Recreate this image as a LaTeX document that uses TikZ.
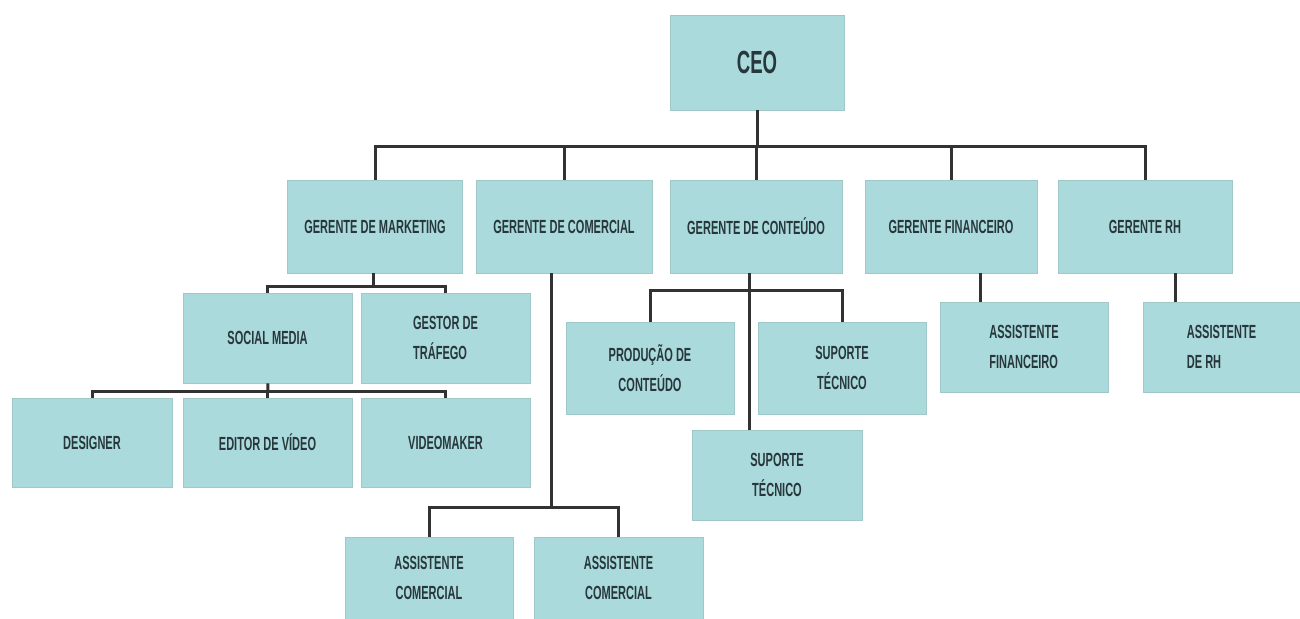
\documentclass[tikz,border=0pt]{standalone}
\usepackage{fontspec}
\setmainfont{Liberation Sans}[FakeStretch=0.58]
\usepackage{tikz}
\definecolor{boxfill}{RGB}{170,218,220}
\definecolor{boxtext}{RGB}{40,55,60}
\definecolor{linecol}{RGB}{50,50,50}

\begin{document}
\begin{tikzpicture}[x=0.5pt,y=-0.5pt]
					\tikzstyle{box}=[rectangle,fill=boxfill,draw=boxfill!80!gray,line width=0.4pt,text=boxtext,
						font=\bfseries\fontsize{9.5}{15}\selectfont,align=center,inner sep=1pt]
					\tikzstyle{link}=[draw=linecol,line width=1.5pt]
					\useasboundingbox (0,0) rectangle (1300,619);
					\node[box,minimum width=87pt,minimum height=47.5pt,font=\bfseries\fontsize{16}{18}\selectfont] (1) at (757,62.5) {CEO};
					\node[box,minimum width=87.5pt,minimum height=46.5pt] (2) at (375,226.5) {GERENTE DE MARKETING};
					\node[box,minimum width=88pt,minimum height=46.5pt] (3) at (564,226.5) {GERENTE DE COMERCIAL};
					\node[box,minimum width=86pt,minimum height=46.5pt] (4) at (756,226.5) {GERENTE DE CONTEÚDO};
					\node[box,minimum width=86pt,minimum height=46.5pt] (5) at (951,226.5) {GERENTE FINANCEIRO};
					\node[box,minimum width=87pt,minimum height=46.5pt] (6) at (1145,226.5) {GERENTE RH};
					\node[box,minimum width=84.5pt,minimum height=45pt] (7) at (267.5,338) {SOCIAL MEDIA};
					\node[box,minimum width=84.5pt,minimum height=45pt,align=left] (8) at (445.5,338) {GESTOR DE\\TRÁFEGO};
					\node[box,minimum width=80pt,minimum height=44.5pt] (9) at (92,442.5) {DESIGNER};
					\node[box,minimum width=84.5pt,minimum height=44.5pt] (10) at (267.5,442.5) {EDITOR DE VÍDEO};
					\node[box,minimum width=84.5pt,minimum height=44.5pt] (11) at (445.5,442.5) {VIDEOMAKER};
					\node[box,minimum width=84pt,minimum height=46pt] (12) at (650,368) {PRODUÇÃO DE\\CONTEÚDO};
					\node[box,minimum width=84pt,minimum height=46pt] (13) at (842,368) {SUPORTE\\TÉCNICO};
					\node[box,minimum width=85pt,minimum height=45pt] (14) at (777,475) {SUPORTE\\TÉCNICO};
					\node[box,minimum width=84pt,minimum height=45pt,align=left] (15) at (1024,347) {ASSISTENTE\\FINANCEIRO};
					\node[box,minimum width=78.5pt,minimum height=45pt,align=left] (16) at (1221.5,347) {ASSISTENTE\\DE RH};
					\node[box,minimum width=84pt,minimum height=41pt] (17) at (429,578) {ASSISTENTE\\COMERCIAL};
					\node[box,minimum width=84.5pt,minimum height=41pt] (18) at (618.5,578) {ASSISTENTE\\COMERCIAL};
					% bus points
					\coordinate (b1) at (757,147);
					\coordinate (b2) at (373,287);
					\coordinate (b3) at (551,508);
					\coordinate (b4) at (749,291);
					\coordinate (b5) at (980,0);
					\coordinate (b6) at (1175,0);
					\coordinate (b7) at (268,392);
					% ceo
					\draw[link] (1) -- (b1);
					\draw[link] (b1) -| (2);
					\draw[link] (b1) -| (3);
					\draw[link] (b1) -| (4);
					\draw[link] (b1) -| (5);
					\draw[link] (b1) -| (6);
					% marketing
					\draw[link] (2.south -| b2) -- (b2);
					\draw[link] (b2) -| (7);
					\draw[link] (b2) -| (8);
					\draw[link] (7) -- (b7);
					\draw[link] (b7) -| (9);
					\draw[link] (b7) -| (10);
					\draw[link] (b7) -| (11);
					% comercial
					\draw[link] (3.south -| b3) -- (b3);
					\draw[link] (b3) -| (17);
					\draw[link] (b3) -| (18);
					% conteudo
					\draw[link] (4.south -| b4) -- (b4 |- 14.north);
					\draw[link] (12) |- (b4) -| (13);
					% financeiro, rh
					\draw[link] (5.south -| b5) -- (b5 |- 15.north);
					\draw[link] (6.south -| b6) -- (b6 |- 16.north);
\end{tikzpicture}
\end{document}
